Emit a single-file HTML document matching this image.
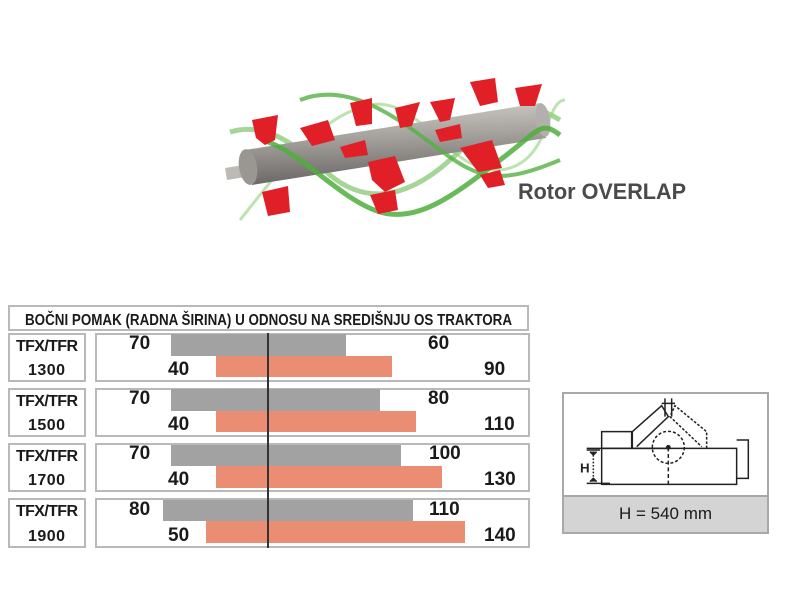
<!DOCTYPE html>
<html><head><meta charset="utf-8"><style>
body{margin:0;width:800px;height:600px;background:#fff;position:relative;overflow:hidden;font-family:"Liberation Sans",sans-serif;}
.a{position:absolute;box-sizing:border-box}
.bx{border:2px solid #b9b9b9;background:#fff}
.n{position:absolute;font-weight:bold;font-size:19px;color:#1a1a1a;line-height:1}
.g{position:absolute;background:#a2a2a2}
.o{position:absolute;background:#ea8d72}
</style></head><body>
<svg class="a" style="left:0;top:0" width="800" height="300">
 <defs><linearGradient id="cy" x1="0" y1="0" x2="0.12" y2="1"><stop offset="0" stop-color="#d2cfcb"/><stop offset="0.45" stop-color="#a6a39f"/><stop offset="1" stop-color="#6a6764"/></linearGradient></defs>
 <path d="M230 132 C270 120 300 150 330 175 S400 205 450 160 S520 95 560 120" stroke="#7fc56c" stroke-width="5" fill="none" opacity=".7"/>
 <path d="M240 220 C280 170 320 115 370 105 S450 175 500 170 S545 100 565 100" stroke="#8fd07c" stroke-width="3" fill="none" opacity=".6"/>
 <path d="M225 168 L250 164 L252 176 L227 180 Z" fill="#bdbab6"/>
 <path d="M245 150 L540 103 L546 138 L252 185 Z" fill="url(#cy)"/>
 <ellipse cx="248" cy="167" rx="9" ry="18" fill="#9a9793" transform="rotate(-9 248 167)"/>
 <ellipse cx="543" cy="120" rx="7" ry="17" fill="#b3b0ac" transform="rotate(-9 543 120)"/>
 <path d="M262 140 C300 150 340 200 380 212 S460 190 500 160 S540 120 560 135" stroke="#4fae3c" stroke-width="5" fill="none" opacity=".85"/>
 <path d="M300 100 C350 80 400 120 440 150 S500 185 560 160" stroke="#55b043" stroke-width="4" fill="none" opacity=".8"/>
 <g fill="#e01f26">
  <path d="M252 120 L278 115 L275 140 L265 145 L256 138Z"/><path d="M300 128 L328 120 L335 140 L312 146Z"/>
  <path d="M350 103 L372 98 L372 124 L356 126Z"/><path d="M395 108 L420 102 L412 126 L400 128Z"/>
  <path d="M430 102 L455 98 L450 120 L440 122Z"/><path d="M470 82 L495 78 L498 102 L480 106Z"/>
  <path d="M515 88 L542 84 L535 106 L520 106Z"/><path d="M340 147 L365 140 L368 155 L345 158Z"/>
  <path d="M435 130 L460 124 L462 138 L440 142Z"/><path d="M368 162 L395 156 L405 182 L385 192 L372 180Z"/>
  <path d="M460 148 L492 140 L502 168 L478 172Z"/><path d="M262 192 L288 186 L290 212 L268 216Z"/>
  <path d="M370 195 L395 190 L398 210 L378 214Z"/><path d="M480 175 L500 170 L505 185 L488 188Z"/>
 </g>
 <text x="518" y="199" font-family="Liberation Sans, sans-serif" font-weight="bold" font-size="22" fill="#4a4a4a" textLength="168" lengthAdjust="spacingAndGlyphs">Rotor OVERLAP</text>
</svg>

<div class="a bx" style="left:8px;top:305px;width:521px;height:26px;"></div>
<div class="a bx" style="left:8px;top:333px;width:78px;height:49px"></div>
<div class="a bx" style="left:8px;top:388px;width:78px;height:49px"></div>
<div class="a bx" style="left:8px;top:443px;width:78px;height:49px"></div>
<div class="a bx" style="left:8px;top:498px;width:78px;height:50px"></div>

<div class="a bx" style="left:95px;top:333px;width:435px;height:49px"></div>
<div class="a bx" style="left:95px;top:388px;width:435px;height:49px"></div>
<div class="a bx" style="left:95px;top:443px;width:435px;height:49px"></div>
<div class="a bx" style="left:95px;top:498px;width:435px;height:50px"></div>

<svg class="a" style="left:0;top:300px" width="100" height="260" font-family="Liberation Sans, sans-serif" font-weight="bold" fill="#1a1a1a" font-size="16" lengthAdjust="spacingAndGlyphs">
 <text x="16" y="51" textLength="62">TFX/TFR</text><text x="28" y="75" textLength="37">1300</text>
 <text x="16" y="106" textLength="62">TFX/TFR</text><text x="28" y="130" textLength="37">1500</text>
 <text x="16" y="161" textLength="62">TFX/TFR</text><text x="28" y="185" textLength="37">1700</text>
 <text x="16" y="216" textLength="62">TFX/TFR</text><text x="28" y="241" textLength="37">1900</text>
</svg>
<svg class="a" style="left:0;top:300px" width="540" height="30">
 <text x="25" y="25" textLength="487" lengthAdjust="spacingAndGlyphs" font-family="Liberation Sans, sans-serif" font-weight="bold" font-size="16" fill="#1a1a1a">BOČNI POMAK (RADNA ŠIRINA) U ODNOSU NA SREDIŠNJU OS TRAKTORA</text>
</svg>

<div class="g" style="left:171px;top:334px;width:175px;height:22px"></div>
<div class="o" style="left:216px;top:356px;width:176px;height:21px"></div>
<div class="g" style="left:171px;top:389px;width:209px;height:22px"></div>
<div class="o" style="left:216px;top:411px;width:200px;height:21px"></div>
<div class="g" style="left:171px;top:445px;width:230px;height:21px"></div>
<div class="o" style="left:216px;top:466px;width:226px;height:22px"></div>
<div class="g" style="left:163px;top:500px;width:250px;height:21px"></div>
<div class="o" style="left:206px;top:521px;width:259px;height:22px"></div>
<div class="a" style="left:267px;top:333px;width:1.5px;height:215px;background:#333"></div>

<div class="n" style="left:129px;top:334px">70</div><div class="n" style="left:168px;top:360px">40</div>
<div class="n" style="left:428px;top:334px">60</div><div class="n" style="left:484px;top:360px">90</div>
<div class="n" style="left:129px;top:389px">70</div><div class="n" style="left:168px;top:415px">40</div>
<div class="n" style="left:428px;top:389px">80</div><div class="n" style="left:484px;top:415px">110</div>
<div class="n" style="left:129px;top:444px">70</div><div class="n" style="left:168px;top:470px">40</div>
<div class="n" style="left:429px;top:444px">100</div><div class="n" style="left:484px;top:470px">130</div>
<div class="n" style="left:129px;top:500px">80</div><div class="n" style="left:168px;top:526px">50</div>
<div class="n" style="left:429px;top:500px">110</div><div class="n" style="left:484px;top:526px">140</div>

<div class="a" style="left:562px;top:392px;width:207px;height:142px;border:2px solid #a8a8a8;background:#fff"></div>
<div class="a" style="left:564px;top:495px;width:203px;height:37px;background:#d4d4d4;border-top:2px solid #a8a8a8;font-size:17px;text-align:center;line-height:34px;color:#1a1a1a">H = 540 mm</div>
<svg class="a" style="left:555px;top:385px" width="220" height="112">
 <g transform="scale(0.3333)" fill="none" stroke="#222" stroke-width="4.5">
  <path d="M140 300 V140 H230 V190"/><path d="M140 190 H545 V298 H140"/><path d="M545 165 H580 V280 H545"/>
  <path d="M232 190 V140 L320 62 L340 95 L245 185"/>
  <path d="M455 190 V140 L360 62 L345 95 L440 185" stroke-dasharray="8 5"/>
  <path d="M320 55 H360 M330 40 V95 M350 40 V95"/>
  <circle cx="340" cy="187" r="48" stroke-dasharray="9 6"/><circle cx="340" cy="187" r="5" fill="#222"/>
  <path d="M340 187 V300" stroke-dasharray="12 8"/><path d="M95 190 H340"/>
  <path d="M115 200 V290" stroke-dasharray="5 5"/><path d="M95 195 H135 M95 295 H165"/>
  <path d="M105 200 L115 210 L125 200 M105 290 L115 280 L125 290" fill="#222"/>
  <text x="75" y="262" font-family="Liberation Sans" font-weight="bold" font-size="40" fill="#222" stroke="none">H</text>
 </g>
</svg>
</body></html>
